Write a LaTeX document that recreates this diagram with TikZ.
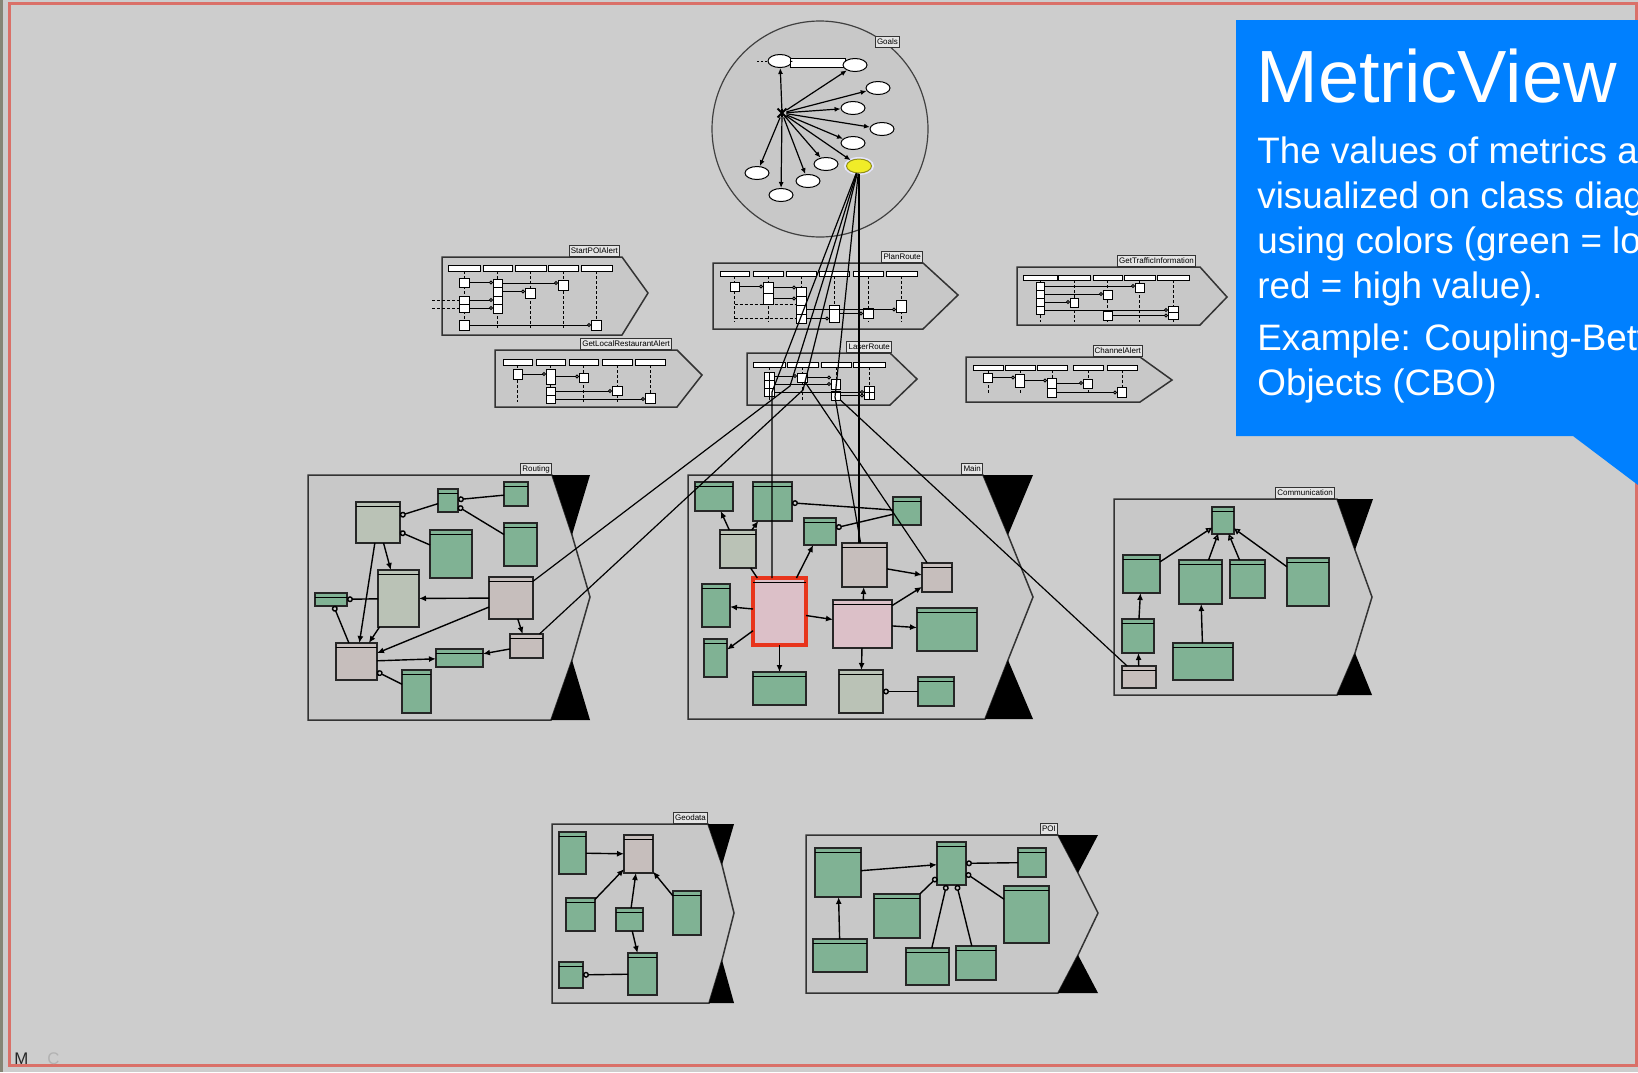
\documentclass[tikz,border=0pt]{standalone}
\usepackage{fontspec}
\setmainfont{Liberation Sans}
\usetikzlibrary{arrows.meta,shapes.geometric}

\definecolor{bgc}{RGB}{205,205,205}
\definecolor{pkgc}{RGB}{200,200,200}
\definecolor{clsgreen}{RGB}{128,178,148}
\definecolor{clsgg}{RGB}{186,194,182}
\definecolor{clsgray}{RGB}{198,190,188}
\definecolor{clspink}{RGB}{220,192,200}
\definecolor{hotred}{RGB}{232,52,28}
\definecolor{framered}{RGB}{218,112,104}
\definecolor{framedark}{RGB}{133,133,117}
\definecolor{calloutblue}{RGB}{0,128,255}
\definecolor{goalyellow}{RGB}{240,236,40}

% box with corners (x1,y1)-(x2,y2), given in picture units
\newcommand\bx[6]{\node[#1, minimum width={(#5-#3)*0.5pt}, minimum height={(#6-#4)*0.5pt}] (#2) at ({(#3+#5)/2},{(#4+#6)/2}) {};}
% UML class: box plus the line under its name compartment
\newcommand\cls[6]{\bx{#1}{#2}{#3}{#4}{#5}{#6}\draw[line width=0.35pt] ([yshift=-2.2pt]#2.north west) -- ([yshift=-2.2pt]#2.north east);}
% horizontal message from one activation to the next lifeline
\newcommand\msgto[2]{\draw[msg] (#1.east) -- (#1.east -| #2.west);}

\tikzset{
  clsbase/.style={draw=black!85, line width=1pt, inner sep=0pt, outer sep=0pt},
  G/.style={clsbase, fill=clsgreen},
  GG/.style={clsbase, fill=clsgg},
  GR/.style={clsbase, fill=clsgray},
  PK/.style={clsbase, fill=clspink},
  HOT/.style={draw=hotred, line width=2pt, fill=clspink, inner sep=0pt, outer sep=0pt},
  pkg/.style={draw=black!80, line width=0.75pt, fill=pkgc},
  tri/.style={fill=black},
  tab/.style={draw=black!80, line width=0.5pt, fill=pkgc!50!white, inner sep=0.8pt,
    minimum height=5.5pt, font=\fontsize{4}{4.5}\selectfont, anchor=south east},
  head/.style={draw=black, fill=white, line width=0.5pt, inner sep=0pt, outer sep=0pt},
  act/.style={draw=black, fill=white, line width=0.5pt, inner sep=0pt, outer sep=0pt},
  life/.style={dash pattern=on 1.5pt off 1pt, line width=0.5pt},
  msg/.style={line width=0.5pt, -{Circle[open,length=2pt,width=2pt]}},
  dep/.style={line width=0.7pt, -{Latex[length=3.5pt,width=3pt]}},
  agg/.style={line width=0.7pt, {Circle[open,length=3pt,width=3pt]}-},
  gen/.style={line width=0.7pt, -{Triangle[open,length=3pt,width=3pt]}},
  trace/.style={line width=0.6pt, draw=black},
  ell/.style={ellipse, draw=black, fill=white, line width=0.5pt, inner sep=0pt,
    minimum width=12pt, minimum height=6.5pt},
  harr/.style={line width=0.6pt, -{Latex[length=3pt,width=2.5pt]}},
  callout/.style={text=white, anchor=base west, inner sep=0pt},
}

\begin{document}
\begin{tikzpicture}[x=0.5pt,y=-0.5pt]
\clip (0,0) rectangle (1638,1072);
\fill[bgc] (0,0) rectangle (1638,1072);

% window frame
\fill[framedark] (0,0) rectangle (3,1072);
\draw[framered, line width=1.5pt] (9,3) rectangle (1636,1065);

% ---------------- goal model (circle) ----------------
\draw[draw=black!75, fill=pkgc, line width=0.6pt] (820,129) circle [radius=54pt];
\node[tab] (tGoal) at (900,48) {Goals};
\node[inner sep=0pt, minimum size=4pt] (H) at (782,113) {};
\draw[line width=0.9pt] (H.north west) -- (H.south east) (H.north east) -- (H.south west) (H.north) -- (H.south);
\node[ell] (E1) at (780,61) {};
\bx{head}{Ebar}{790}{58}{845}{67}
\node[ell] (E2) at (855,65) {};
\node[ell] (E3) at (878,88) {};
\node[ell] (E4) at (853,108) {};
\node[ell] (E5) at (882,129) {};
\node[ell] (E6) at (853,143) {};
\node[ell] (E7) at (826,164) {};
\node[ell] (E8) at (808,181) {};
\node[ell] (E9) at (781,195) {};
\node[ell] (E10) at (757,173) {};
\node[ellipse, fill=black!8!blue!10!white, inner sep=0pt, minimum width=15pt, minimum height=9pt] (Yhalo) at (859,166) {};
\node[ell, fill=goalyellow, draw=goalyellow!60!black, minimum width=12.5pt, minimum height=7pt] (Y) at (859,166) {};
\coordinate (ed1) at (757,61);
\draw[dash pattern=on 1pt off 1pt, line width=0.5pt] (ed1) -- (E1);
\draw[line width=0.5pt] (E1) -- (Ebar);
\foreach \e in {E1,E2,E3,E4,E5,E6,E7,E8,E9,E10,Y} \draw[harr] (H) -- (\e);

% ---------------- sequence diagrams ----------------
% StartPOIAlert
\draw[pkg] (442,257) -- (622,257) -- (648,293) -- (622,335) -- (442,335) -- cycle;
\node[tab] (tS) at (620,257) {StartPOIAlert};
\bx{head}{sh1}{448}{265}{480}{271}
\bx{head}{sh2}{483}{265}{512}{271}
\bx{head}{sh3}{515}{265}{546}{271}
\bx{head}{sh4}{548}{265}{578}{271}
\bx{head}{sh5}{581}{265}{612}{271}
\foreach \h in {sh1,sh2,sh3,sh4,sh5} \draw[life] (\h.south) -- ++(0,57);
\bx{act}{sa1}{459}{278}{469}{287}
\bx{act}{sa2}{459}{296}{469}{304}
\bx{act}{sa3}{459}{304}{469}{312}
\bx{act}{sa4}{459}{320}{469}{330}
\bx{act}{sb1}{493}{279}{502}{287}
\bx{act}{sb2}{493}{287}{502}{296}
\bx{act}{sb3}{493}{296}{502}{304}
\bx{act}{sb4}{493}{304}{502}{313}
\bx{act}{sc1}{525}{288}{535}{298}
\bx{act}{sd1}{558}{280}{568}{290}
\bx{act}{se1}{591}{320}{601}{330}
\msgto{sa1}{sb1} \msgto{sb1}{sd1} \msgto{sb2}{sc1}
\msgto{sa2}{sb3} \msgto{sa3}{sb4} \msgto{sa4}{se1}
\coordinate (sin1) at (432,300);
\coordinate (sin2) at (432,308);
\draw[life] (sin1) -- (sa2.west);
\draw[life] (sin2) -- (sa3.west);

% GetLocalRestaurantAlert
\draw[pkg] (495,350) -- (677,350) -- (702,375) -- (677,407) -- (495,407) -- cycle;
\node[tab] (tL) at (672,350) {GetLocalRestaurantAlert};
\bx{head}{lh1}{503}{359}{532}{365}
\bx{head}{lh2}{536}{359}{565}{365}
\bx{head}{lh3}{569}{359}{598}{365}
\bx{head}{lh4}{602}{359}{632}{365}
\bx{head}{lh5}{635}{359}{665}{365}
\foreach \h in {lh1,lh2,lh3,lh4,lh5} \draw[life] (\h.south) -- ++(0,37);
\bx{act}{la1}{513}{369}{522}{379}
\bx{act}{lb1}{546}{369}{555}{384}
\bx{act}{lb2}{546}{387}{555}{395}
\bx{act}{lb3}{546}{395}{555}{403}
\bx{act}{lc1}{579}{373}{588}{382}
\bx{act}{ld1}{612}{386}{622}{395}
\bx{act}{le1}{645}{393}{655}{403}
\msgto{la1}{lb1} \msgto{lb1}{lc1} \msgto{lb2}{ld1} \msgto{lb3}{le1}

% PlanRoute
\draw[pkg] (713,263) -- (923,263) -- (958,295) -- (923,329) -- (713,329) -- cycle;
\node[tab] (tP) at (923,263) {PlanRoute};
\bx{head}{ph1}{720}{271}{749}{276}
\bx{head}{ph2}{753}{271}{783}{276}
\bx{head}{ph3}{786}{271}{816}{276}
\bx{head}{ph4}{819}{271}{849}{276}
\bx{head}{ph5}{853}{271}{883}{276}
\bx{head}{ph6}{886}{271}{917}{276}
\foreach \h in {ph1,ph2,ph3,ph4,ph5,ph6} \draw[life] (\h.south) -- ++(0,46);
\bx{act}{pa1}{730}{282}{739}{291}
\bx{act}{pb1}{763}{282}{773}{293}
\bx{act}{pb2}{763}{293}{773}{304}
\bx{act}{pc1}{796}{287}{806}{296}
\bx{act}{pc2}{796}{296}{806}{305}
\bx{act}{pc3}{796}{305}{806}{314}
\bx{act}{pc4}{796}{314}{806}{323}
\bx{act}{pd1}{829}{305}{839}{322}
\bx{act}{pe1}{863}{308}{873}{318}
\bx{act}{pf1}{896}{300}{906}{312}
\msgto{pa1}{pb1} \msgto{pb1}{pc1} \msgto{pb2}{pc2}
\msgto{pc3}{pf1} \msgto{pd1}{pe1} \msgto{pc4}{pd1}
\draw[life] (ph1 |- pb2.south) -- (pc2.west |- pb2.south);
\draw[life] (pa1.south |- pc4.center) -- (pc4.west);

% LaserRoute
\draw[pkg] (747,353) -- (890,353) -- (917,379) -- (890,405) -- (747,405) -- cycle;
\node[tab] (tR) at (892,353) {LaserRoute};
\bx{head}{rh1}{753}{362}{785}{367}
\bx{head}{rh2}{787}{362}{818}{367}
\bx{head}{rh3}{821}{362}{851}{367}
\bx{head}{rh4}{853}{362}{885}{367}
\foreach \h in {rh1,rh2,rh3,rh4} \draw[life] (\h.south) -- ++(0,33);
\bx{act}{ra1}{764}{372}{774}{380}
\bx{act}{ra2}{764}{380}{774}{388}
\bx{act}{ra3}{764}{388}{774}{396}
\draw[line width=0.4pt] (ra1.north) -- (ra3.south);
\bx{act}{rb1}{797}{373}{807}{382}
\bx{act}{rc1}{831}{379}{840}{389}
\bx{act}{rc2}{831}{391}{840}{400}
\bx{act}{rd1}{864}{386}{874}{399}
\draw[line width=0.4pt] (rd1.north) -- (rd1.south) (rd1.west) -- (rd1.east);
\msgto{ra1}{rb1} \msgto{rb1}{rc1} \msgto{ra2}{rc1} \msgto{ra3}{rd1} \msgto{rc2}{rd1}

% GetTrafficInformation
\draw[pkg] (1017,267) -- (1200,267) -- (1227,297) -- (1200,325) -- (1017,325) -- cycle;
\node[tab] (tT) at (1196,267) {GetTrafficInformation};
\bx{head}{th1}{1023}{275}{1057}{280}
\bx{head}{th2}{1058}{275}{1090}{280}
\bx{head}{th3}{1093}{275}{1122}{280}
\bx{head}{th4}{1124}{275}{1155}{280}
\bx{head}{th5}{1157}{275}{1189}{280}
\foreach \h in {th1,th2,th3,th4,th5} \draw[life] (\h.south) -- ++(0,42);
\bx{act}{ta1}{1036}{282}{1044}{290}
\bx{act}{ta2}{1036}{290}{1044}{298}
\bx{act}{ta3}{1036}{298}{1044}{306}
\bx{act}{ta4}{1036}{306}{1044}{314}
\bx{act}{tb1}{1070}{298}{1078}{307}
\bx{act}{tc1}{1103}{290}{1112}{299}
\bx{act}{tc2}{1103}{311}{1112}{320}
\bx{act}{td1}{1135}{283}{1144}{292}
\bx{act}{te1}{1168}{306}{1178}{312}
\bx{act}{te2}{1168}{312}{1178}{319}
\msgto{ta1}{td1} \msgto{ta2}{tc1} \msgto{ta3}{tb1} \msgto{ta4}{te1} \msgto{tc2}{te2}

% ChannelAlert
\draw[pkg] (966,357) -- (1140,357) -- (1172,380) -- (1140,402) -- (966,402) -- cycle;
\node[tab] (tC) at (1143,357) {ChannelAlert};
\bx{head}{ch1}{973}{365}{1003}{370}
\bx{head}{ch2}{1005}{365}{1035}{370}
\bx{head}{ch3}{1037}{365}{1067}{370}
\bx{head}{ch4}{1073}{365}{1103}{370}
\bx{head}{ch5}{1107}{365}{1137}{370}
\foreach \h in {ch1,ch2,ch3,ch4,ch5} \draw[life] (\h.south) -- ++(0,25);
\bx{act}{ca1}{983}{373}{992}{382}
\bx{act}{cb1}{1015}{374}{1024}{387}
\bx{act}{cc1}{1047}{378}{1056}{388}
\bx{act}{cc2}{1047}{388}{1056}{397}
\bx{act}{cd1}{1083}{379}{1092}{388}
\bx{act}{ce1}{1117}{387}{1126}{397}
\msgto{ca1}{cb1} \msgto{cb1}{cc1} \msgto{cc1}{cd1} \msgto{cc2}{ce1}

% ---------------- class diagram packages ----------------
% Routing
\draw[pkg] (308,475) -- (552,475) -- (572,535) -- (590,597) -- (572,660) -- (551,720) -- (308,720) -- cycle;
\fill[tri] (552,475) -- (590,475) -- (572,535) -- cycle;
\fill[tri] (572,660) -- (590,720) -- (551,720) -- cycle;
\node[tab] (tRouting) at (552,475) {Routing};
\cls{GG}{R1}{356}{502}{400}{543}
\cls{G}{R2}{438}{489}{458}{512}
\cls{G}{R3}{504}{482}{528}{506}
\cls{G}{R4}{430}{530}{472}{578}
\cls{G}{R5}{504}{523}{537}{566}
\cls{GG}{R6}{378}{570}{419}{627}
\cls{G}{R7}{315}{593}{347}{606}
\cls{GR}{R8}{489}{577}{533}{619}
\cls{GR}{R9}{510}{634}{543}{658}
\cls{GR}{R10}{336}{643}{377}{680}
\cls{G}{R11}{436}{649}{483}{667}
\cls{G}{R12}{402}{670}{431}{713}
\draw[agg] (R1) -- (R2);
\draw[agg] (R2) -- (R3);
\draw[agg] (R2) -- (R5);
\draw[agg] (R1) -- (R4);
\draw[dep] (R1) -- (R6);
\draw[dep] (R1) -- (R10);
\draw[dep] (R8) -- (R6);
\draw[agg] (R7) -- (R6);
\draw[agg] (R7) -- (R10);
\draw[dep] (R6) -- (R10);
\draw[dep] (R8) -- (R10);
\draw[dep] (R8) -- (R9);
\draw[dep] (R9) -- (R11);
\draw[dep] (R10) -- (R11);
\draw[agg] (R10) -- (R12);

% Main
\draw[pkg] (688,475) -- (983,475) -- (1008,535) -- (1033,597) -- (1008,660) -- (985,719) -- (688,719) -- cycle;
\fill[tri] (983,475) -- (1033,475) -- (1008,535) -- cycle;
\fill[tri] (1008,660) -- (1033,719) -- (985,719) -- cycle;
\node[tab] (tMain) at (983,475) {Main};
\cls{G}{M1}{695}{482}{733}{511}
\cls{G}{M2}{753}{482}{792}{521}
\cls{G}{M3}{893}{497}{921}{525}
\cls{G}{M4}{804}{518}{836}{545}
\cls{GG}{M5}{720}{530}{756}{568}
\cls{GR}{M6}{842}{543}{887}{587}
\cls{GR}{M7}{922}{563}{952}{592}
\cls{G}{M8}{702}{584}{730}{627}
\cls{HOT}{M9}{753}{578}{806}{645}
\cls{PK}{M10}{833}{600}{892}{648}
\cls{G}{M11}{917}{608}{977}{651}
\cls{G}{M12}{704}{639}{727}{677}
\cls{G}{M13}{753}{672}{806}{705}
\cls{GG}{M14}{839}{670}{883}{713}
\cls{G}{M15}{918}{677}{954}{706}
\draw[agg] (M2) -- (M3);
\draw[agg] (M4) -- (M3);
\draw[dep] (M5) -- (M1);
\draw[dep] (M5) -- (M2);
\draw[line width=0.7pt] (M9) -- (M5);
\draw[dep] (M9) -- (M4);
\draw[dep] (M9) -- (M8);
\draw[dep] (M9) -- (M12);
\draw[dep] (M9) -- (M13);
\draw[dep] (M9) -- (M10);
\draw[dep] (M6) -- (M7);
\draw[dep] (M10) -- (M6);
\draw[dep] (M10) -- (M7);
\draw[dep] (M10) -- (M11);
\draw[dep] (M10) -- (M14);
\draw[agg] (M14) -- (M15);

% Communication
\draw[pkg] (1114,499) -- (1337,499) -- (1355,550) -- (1372,597) -- (1355,653) -- (1337,695) -- (1114,695) -- cycle;
\fill[tri] (1337,499) -- (1373,499) -- (1355,550) -- cycle;
\fill[tri] (1355,653) -- (1372,695) -- (1337,695) -- cycle;
\node[tab] (tComm) at (1335,499) {Communication};
\cls{G}{C1}{1212}{507}{1234}{534}
\cls{G}{C2}{1123}{555}{1160}{593}
\cls{G}{C3}{1179}{560}{1222}{604}
\cls{G}{C4}{1230}{560}{1265}{598}
\cls{G}{C5}{1287}{558}{1329}{606}
\cls{G}{C6}{1122}{619}{1154}{653}
\cls{GR}{C7}{1122}{666}{1156}{688}
\cls{G}{C8}{1173}{643}{1233}{680}
\draw[gen] (C2) -- (C1);
\draw[gen] (C3) -- (C1);
\draw[gen] (C4) -- (C1);
\draw[gen] (C5) -- (C1);
\draw[dep] (C6) -- (C2);
\draw[dep] (C7) -- (C6);
\draw[dep] (C8) -- (C3);

% Geodata
\draw[pkg] (552,824) -- (708,824) -- (722,865) -- (734,913) -- (722,960) -- (709,1003) -- (552,1003) -- cycle;
\fill[tri] (708,824) -- (734,824) -- (722,865) -- cycle;
\fill[tri] (722,960) -- (734,1003) -- (709,1003) -- cycle;
\node[tab] (tGeo) at (708,824) {Geodata};
\cls{G}{G1}{559}{832}{586}{874}
\cls{GR}{G2}{624}{835}{653}{873}
\cls{G}{G3}{566}{898}{595}{931}
\cls{G}{G4}{616}{908}{643}{931}
\cls{G}{G5}{673}{891}{701}{935}
\cls{G}{G6}{559}{962}{583}{988}
\cls{G}{G7}{628}{953}{657}{995}
\draw[dep] (G1) -- (G2);
\draw[dep] (G3) -- (G2);
\draw[dep] (G5) -- (G2);
\draw[dep] (G4) -- (G2);
\draw[dep] (G4) -- (G7);
\draw[agg] (G6) -- (G7);

% POI
\draw[pkg] (806,835) -- (1058,835) -- (1078,873) -- (1098,913) -- (1078,955) -- (1058,993) -- (806,993) -- cycle;
\fill[tri] (1058,835) -- (1098,835) -- (1078,873) -- cycle;
\fill[tri] (1078,955) -- (1098,993) -- (1058,993) -- cycle;
\node[tab] (tPOI) at (1058,835) {POI};
\cls{G}{P1}{815}{848}{861}{897}
\cls{G}{P2}{937}{842}{966}{885}
\cls{G}{P3}{1018}{848}{1046}{877}
\cls{G}{P4}{874}{894}{920}{938}
\cls{G}{P5}{1004}{886}{1049}{943}
\cls{G}{P6}{813}{939}{867}{972}
\cls{G}{P7}{906}{948}{949}{985}
\cls{G}{P8}{956}{946}{996}{980}
\draw[dep] (P1) -- (P2);
\draw[agg] (P2) -- (P3);
\draw[agg] (P2) -- (P4);
\draw[agg] (P2) -- (P7);
\draw[agg] (P2) -- (P8);
\draw[agg] (P2) -- (P5);
\draw[dep] (P6) -- (P1);

% ---------------- traces from the selected goal ----------------
\coordinate (w1) at (772,392);
\coordinate (w2) at (790,386);
\coordinate (w3) at (803,390);
\coordinate (w4) at (835,397);
\draw[trace] (Y) -- (w1) -- (w1 |- M9.north);
\draw[trace] (Y) -- (w2) -- (R8);
\draw[trace] (Y) -- (w3) -- (R9);
\draw[trace] (Y) -- (w4) -- (M6);
\draw[trace] (Y) -- (M6.north -| Y);
\draw[trace] (rb1) -- (M7);
\draw[trace] (rc2) -- (C7);

% ---------------- explanation callout ----------------
\fill[calloutblue] (1236,20) -- (1638,20) -- (1638,485) -- (1573,436) -- (1236,436) -- cycle;
\node[callout, font=\fontsize{37}{40}\selectfont] (title) at (1256,102) {MetricView};
\node[callout, font=\fontsize{18.4}{22}\selectfont] (l1) at (1257,163) {The values of metrics are};
\node[callout, font=\fontsize{18.4}{22}\selectfont] (l2) at (1257,208) {visualized on class diagrams};
\node[callout, font=\fontsize{18.4}{22}\selectfont] (l3) at (1257,253) {using colors (green = low value,};
\node[callout, font=\fontsize{18.4}{22}\selectfont] (l4) at (1257,298) {red = high value).};
\node[callout, font=\fontsize{18.4}{22}\selectfont] (l5) at (1257,350) {Example: Coupling-Between-};
\node[callout, font=\fontsize{18.4}{22}\selectfont] (l6) at (1257,395) {Objects (CBO)};

% status letters
\node[anchor=base west, inner sep=0pt, font=\fontsize{8.4}{9}\selectfont, text=black!85] (stM) at (14,1064) {M};
\node[anchor=base west, inner sep=0pt, font=\fontsize{8.4}{9}\selectfont, text=black!30] (stC) at (47,1064) {C};
\end{tikzpicture}
\end{document}
